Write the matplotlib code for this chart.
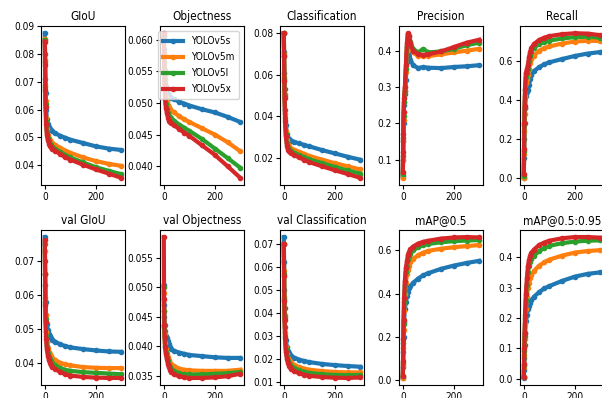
import matplotlib
matplotlib.use("Agg")
import matplotlib.pyplot as plt
from matplotlib import font_manager

epochs = [0, 1, 2, 3, 5, 8, 12, 16, 20, 25, 30, 40, 60, 80, 100, 150, 200, 250, 299]
labels = ["YOLOv5s", "YOLOv5m", "YOLOv5l", "YOLOv5x"]

titles = ["GIoU", "Objectness", "Classification", "Precision", "Recall",
          "val GIoU", "val Objectness", "val Classification", "mAP@0.5", "mAP@0.5:0.95"]

giou = [
    [0.0875, 0.080, 0.071, 0.066, 0.060, 0.0565, 0.0550, 0.0538, 0.0532, 0.0527, 0.0522, 0.0516, 0.0506, 0.0499, 0.0492, 0.0480, 0.0468, 0.0460, 0.0455],
    [0.0855, 0.078, 0.069, 0.063, 0.057, 0.0530, 0.0508, 0.0498, 0.0490, 0.0485, 0.0480, 0.0474, 0.0463, 0.0453, 0.0445, 0.0428, 0.0415, 0.0405, 0.0398],
    [0.0850, 0.077, 0.068, 0.062, 0.056, 0.0520, 0.0497, 0.0486, 0.0478, 0.0472, 0.0467, 0.0460, 0.0448, 0.0437, 0.0428, 0.0410, 0.0393, 0.0380, 0.0368],
    [0.0845, 0.076, 0.067, 0.061, 0.055, 0.0510, 0.0490, 0.0478, 0.0470, 0.0465, 0.0460, 0.0453, 0.0440, 0.0429, 0.0420, 0.0402, 0.0385, 0.0370, 0.0355],
]
objectness = [
    [0.0605, 0.0585, 0.0565, 0.0552, 0.0538, 0.0527, 0.0520, 0.0515, 0.0512, 0.0510, 0.0508, 0.0506, 0.0502, 0.0499, 0.0496, 0.0490, 0.0485, 0.0478, 0.0470],
    [0.0605, 0.0580, 0.0558, 0.0542, 0.0522, 0.0510, 0.0503, 0.0497, 0.0493, 0.0490, 0.0488, 0.0485, 0.0479, 0.0474, 0.0470, 0.0460, 0.0450, 0.0438, 0.0424],
    [0.0605, 0.0578, 0.0553, 0.0535, 0.0513, 0.0498, 0.0490, 0.0484, 0.0480, 0.0478, 0.0476, 0.0472, 0.0466, 0.0461, 0.0456, 0.0443, 0.0428, 0.0413, 0.0398],
    [0.0610, 0.0575, 0.0548, 0.0528, 0.0506, 0.0492, 0.0484, 0.0477, 0.0472, 0.0470, 0.0468, 0.0465, 0.0459, 0.0453, 0.0448, 0.0433, 0.0418, 0.0400, 0.0382],
]
classification = [
    [0.080, 0.071, 0.061, 0.053, 0.043, 0.036, 0.0315, 0.0298, 0.0290, 0.0286, 0.0283, 0.0278, 0.0270, 0.0263, 0.0256, 0.0238, 0.0222, 0.0206, 0.0192],
    [0.080, 0.070, 0.059, 0.051, 0.041, 0.033, 0.0285, 0.0266, 0.0256, 0.0250, 0.0245, 0.0240, 0.0230, 0.0220, 0.0210, 0.0192, 0.0175, 0.0160, 0.0145],
    [0.080, 0.069, 0.058, 0.050, 0.039, 0.0315, 0.0270, 0.0250, 0.0241, 0.0236, 0.0232, 0.0226, 0.0215, 0.0204, 0.0194, 0.0175, 0.0157, 0.0140, 0.0125],
    [0.080, 0.069, 0.057, 0.049, 0.038, 0.0305, 0.0260, 0.0240, 0.0232, 0.0227, 0.0222, 0.0215, 0.0203, 0.0191, 0.0180, 0.0160, 0.0141, 0.0123, 0.0105],
]
precision = [
    [0.055, 0.10, 0.15, 0.20, 0.25, 0.28, 0.32, 0.37, 0.405, 0.395, 0.375, 0.360, 0.352, 0.355, 0.353, 0.352, 0.355, 0.357, 0.360],
    [0.050, 0.10, 0.15, 0.21, 0.26, 0.29, 0.34, 0.40, 0.440, 0.430, 0.410, 0.395, 0.385, 0.385, 0.385, 0.390, 0.395, 0.400, 0.405],
    [0.060, 0.11, 0.16, 0.22, 0.26, 0.29, 0.35, 0.41, 0.445, 0.440, 0.425, 0.405, 0.395, 0.405, 0.395, 0.398, 0.405, 0.415, 0.422],
    [0.065, 0.12, 0.17, 0.23, 0.27, 0.30, 0.36, 0.42, 0.448, 0.440, 0.420, 0.400, 0.390, 0.388, 0.390, 0.398, 0.410, 0.422, 0.430],
]
recall = [
    [0.00, 0.10, 0.20, 0.28, 0.36, 0.42, 0.44, 0.45, 0.48, 0.51, 0.53, 0.55, 0.570, 0.585, 0.595, 0.612, 0.628, 0.640, 0.648],
    [0.00, 0.12, 0.24, 0.33, 0.42, 0.49, 0.51, 0.53, 0.56, 0.59, 0.61, 0.63, 0.655, 0.668, 0.677, 0.692, 0.702, 0.706, 0.705],
    [0.01, 0.14, 0.27, 0.36, 0.45, 0.52, 0.54, 0.56, 0.60, 0.63, 0.65, 0.67, 0.690, 0.700, 0.707, 0.718, 0.725, 0.727, 0.722],
    [0.02, 0.15, 0.28, 0.37, 0.46, 0.54, 0.56, 0.58, 0.62, 0.65, 0.67, 0.69, 0.710, 0.722, 0.730, 0.740, 0.745, 0.743, 0.735],
]
val_giou = [
    [0.077, 0.070, 0.063, 0.058, 0.054, 0.0515, 0.0495, 0.0485, 0.0478, 0.0472, 0.0468, 0.0462, 0.0454, 0.0449, 0.0445, 0.0440, 0.0436, 0.0433, 0.0432],
    [0.073, 0.066, 0.059, 0.054, 0.049, 0.0460, 0.0442, 0.0432, 0.0425, 0.0419, 0.0414, 0.0408, 0.0400, 0.0395, 0.0392, 0.0387, 0.0385, 0.0384, 0.0384],
    [0.075, 0.066, 0.058, 0.053, 0.048, 0.0448, 0.0428, 0.0418, 0.0410, 0.0404, 0.0399, 0.0392, 0.0384, 0.0379, 0.0376, 0.0372, 0.0370, 0.0368, 0.0366],
    [0.076, 0.066, 0.057, 0.052, 0.047, 0.0440, 0.0420, 0.0408, 0.0400, 0.0393, 0.0388, 0.0381, 0.0373, 0.0366, 0.0362, 0.0358, 0.0356, 0.0355, 0.0355],
]
val_objectness = [
    [0.0503, 0.0470, 0.0450, 0.0435, 0.0425, 0.0418, 0.0413, 0.0408, 0.0403, 0.0398, 0.0395, 0.0392, 0.0389, 0.0387, 0.0385, 0.0383, 0.0381, 0.0380, 0.0380],
    [0.0490, 0.0460, 0.0435, 0.0420, 0.0405, 0.0395, 0.0388, 0.0381, 0.0376, 0.0372, 0.0369, 0.0366, 0.0362, 0.0360, 0.0359, 0.0358, 0.0358, 0.0358, 0.0360],
    [0.0500, 0.0460, 0.0432, 0.0415, 0.0400, 0.0390, 0.0381, 0.0374, 0.0368, 0.0364, 0.0361, 0.0358, 0.0354, 0.0352, 0.0352, 0.0352, 0.0353, 0.0354, 0.0356],
    [0.0585, 0.0480, 0.0435, 0.0415, 0.0398, 0.0387, 0.0378, 0.0370, 0.0364, 0.0359, 0.0356, 0.0352, 0.0349, 0.0347, 0.0346, 0.0346, 0.0347, 0.0349, 0.0353],
]
val_classification = [
    [0.073, 0.062, 0.050, 0.042, 0.034, 0.028, 0.0250, 0.0235, 0.0225, 0.0218, 0.0212, 0.0205, 0.0196, 0.0190, 0.0185, 0.0177, 0.0172, 0.0168, 0.0165],
    [0.070, 0.058, 0.047, 0.039, 0.031, 0.025, 0.0222, 0.0205, 0.0195, 0.0188, 0.0182, 0.0174, 0.0163, 0.0157, 0.0152, 0.0146, 0.0142, 0.0140, 0.0140],
    [0.070, 0.057, 0.046, 0.038, 0.030, 0.024, 0.0210, 0.0192, 0.0182, 0.0174, 0.0168, 0.0160, 0.0149, 0.0143, 0.0138, 0.0132, 0.0129, 0.0128, 0.0129],
    [0.070, 0.056, 0.045, 0.037, 0.029, 0.023, 0.0200, 0.0182, 0.0170, 0.0162, 0.0155, 0.0147, 0.0136, 0.0130, 0.0125, 0.0120, 0.0117, 0.0116, 0.0118],
]
map50 = [
    [0.01, 0.06, 0.13, 0.20, 0.27, 0.33, 0.36, 0.39, 0.41, 0.425, 0.435, 0.450, 0.470, 0.485, 0.495, 0.515, 0.530, 0.542, 0.552],
    [0.01, 0.07, 0.15, 0.23, 0.32, 0.40, 0.45, 0.49, 0.51, 0.530, 0.545, 0.560, 0.578, 0.590, 0.598, 0.608, 0.615, 0.620, 0.625],
    [0.02, 0.08, 0.17, 0.26, 0.36, 0.44, 0.50, 0.53, 0.56, 0.575, 0.585, 0.600, 0.615, 0.625, 0.630, 0.638, 0.643, 0.646, 0.648],
    [0.02, 0.09, 0.19, 0.28, 0.38, 0.46, 0.52, 0.55, 0.58, 0.595, 0.605, 0.618, 0.632, 0.640, 0.645, 0.655, 0.660, 0.662, 0.660],
]
map50_95 = [
    [0.003, 0.03, 0.07, 0.11, 0.15, 0.19, 0.21, 0.23, 0.240, 0.250, 0.258, 0.270, 0.285, 0.297, 0.305, 0.322, 0.336, 0.345, 0.350],
    [0.005, 0.04, 0.08, 0.13, 0.18, 0.23, 0.27, 0.30, 0.315, 0.330, 0.340, 0.355, 0.372, 0.383, 0.392, 0.405, 0.415, 0.420, 0.423],
    [0.005, 0.045, 0.09, 0.14, 0.20, 0.26, 0.31, 0.35, 0.370, 0.385, 0.395, 0.405, 0.420, 0.430, 0.437, 0.446, 0.451, 0.454, 0.455],
    [0.006, 0.05, 0.10, 0.15, 0.21, 0.28, 0.33, 0.37, 0.390, 0.405, 0.415, 0.425, 0.440, 0.448, 0.454, 0.462, 0.466, 0.466, 0.464],
]

panels = [giou, objectness, classification, precision, recall,
          val_giou, val_objectness, val_classification, map50, map50_95]

# the reference text is narrow; use DejaVu Sans Condensed when it's there
condensed = any(f.name == "DejaVu Sans" and f.stretch == "condensed"
                for f in font_manager.fontManager.ttflist)
if condensed:
    plt.rcParams["font.family"] = ["DejaVu Sans"]
    plt.rcParams["font.stretch"] = "condensed"
    tick_fs, title_fs, leg_fs = 7.2, 8.5, 7.2
else:
    plt.rcParams["font.family"] = ["Liberation Sans", "DejaVu Sans"]
    tick_fs, title_fs, leg_fs = 7.5, 8.5, 7.5

W, H = 602, 398
fig = plt.figure(figsize=(W / 100, H / 100), dpi=100)

col_left = [41, 160, 280, 399, 520]   # px
ax_w = 84
rows = [(26, 185), (230, 385)]         # top, bottom in px

for i, (title, data) in enumerate(zip(titles, panels)):
    r, c = divmod(i, 5)
    top, bot = rows[r]
    ax = fig.add_axes([col_left[c] / W, 1 - bot / H, ax_w / W, (bot - top) / H])
    for j, series in enumerate(data):
        ax.plot(epochs, series, marker=".", lw=3, ms=6, color="C%d" % j, label=labels[j])
    ax.set_title(title, fontsize=title_fs, pad=4)
    ax.tick_params(labelsize=tick_fs, length=3, pad=2)
    ax.set_xticks([0, 200])
    if i == 1:
        ax.legend(fontsize=leg_fs, loc="upper right", handlelength=2, borderpad=0.5,
                  labelspacing=0.6)

fig.savefig("out.png", dpi=100)
